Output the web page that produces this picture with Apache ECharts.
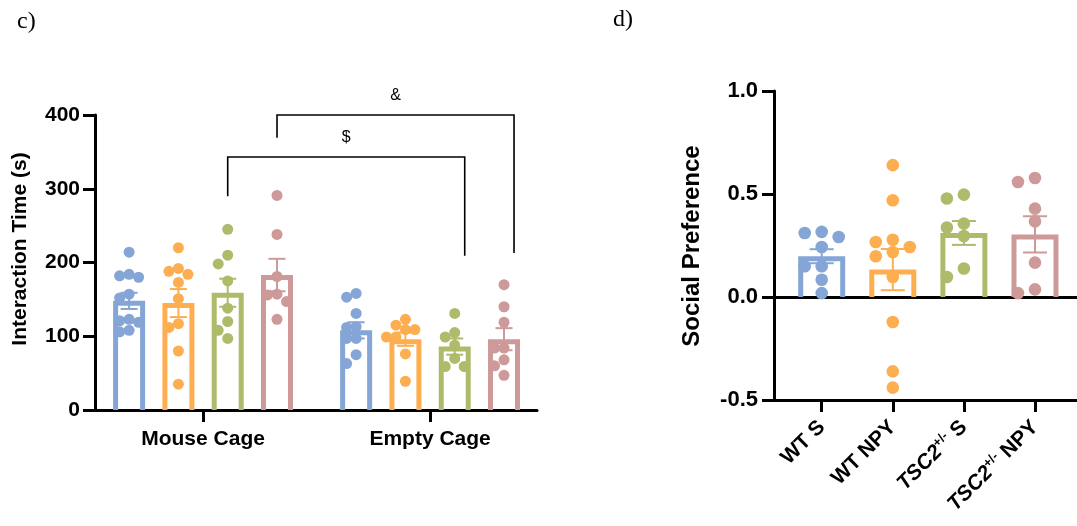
<!DOCTYPE html>
<html><head><meta charset="utf-8">
<script src="https://cdn.jsdelivr.net/npm/echarts@6/dist/echarts.min.js"></script>
<style>html,body{margin:0;padding:0;background:#fff}#c{width:1077px;height:526px}</style>
</head><body><div id="c"></div>
<script>
// ---------- panel c data ----------
const cCategories = ['Mouse Cage', 'Empty Cage'];
const cYTicks = [0, 100, 200, 300, 400];
const cMouseMeans = [148, 145, 159, 183];
const cMouseSems = [11, 19, 19, 22];
const cEmptyMeans = [108, 96, 86, 96];
const cEmptySems = [11, 9, 11, 15];
const cMousePoints = [
  [214, 184, 182, 180, 157, 152, 123, 121, 119, 108, 106],
  [220, 192, 188, 184, 173, 151, 117, 112, 80, 35],
  [245, 210, 198, 175, 138, 120, 108, 97],
  [291, 238, 181, 157, 156, 147, 123]
];
const cEmptyPoints = [
  [158, 153, 131, 113, 112, 97, 97, 75, 63],
  [123, 115, 109, 109, 99, 99, 76, 39],
  [131, 105, 99, 88, 70, 59, 59],
  [170, 140, 119, 84, 84, 68, 60, 47]
];
const cBrackets = [
  { label: '$', fromCat: 0, toCat: 1, group: 2, top: 343, leftEnd: 290, rightEnd: 209 },
  { label: '&', fromCat: 0, toCat: 1, group: 3, top: 400, leftEnd: 369, rightEnd: 213 }
];
// ---------- panel d data ----------
const dTickLabels = ['WT S', 'WT NPY', '{it|TSC2}{sup|+/-}{n| S}', '{it|TSC2}{sup|+/-}{n| NPY}'];
const dYTicks = [-0.5, 0, 0.5, 1.0];
const dMeans = [0.198, 0.133, 0.311, 0.304];
const dSems = [0.034, 0.10, 0.058, 0.088];
const dPoints = [
  [0.316, 0.311, 0.291, 0.243, 0.149, 0.149, 0.084, 0.019],
  [0.64, 0.47, 0.278, 0.267, 0.243, 0.218, 0.198, 0.097, -0.121, -0.361, -0.44],
  [0.497, 0.478, 0.356, 0.337, 0.296, 0.138, 0.097],
  [0.578, 0.558, 0.429, 0.367, 0.167, 0.037, 0.019]
];

// ---------- styling ----------
const COLORS = ['#84A5D6', '#FDAE50', '#AFBB6B', '#CE9999'];
const FONT = 'Arial, "Liberation Sans", sans-serif';
const GROUP_STEP = 49.3;

// column-scatter layout: points whose rows overlap are pushed sideways
function swarm(values, toPx, minDx, minDy, step) {
  const order = values.map((v, i) => i).sort((a, b) => values[b] - values[a]);
  const placed = [];
  const out = new Array(values.length).fill(0);
  for (const i of order) {
    const y = toPx(values[i]);
    let chosen = 0;
    for (let k = 0; k < 60; k++) {
      const cand = k === 0 ? 0 : (k % 2 ? -1 : 1) * Math.ceil(k / 2) * step;
      if (placed.every(p => Math.abs(p.x - cand) >= minDx || Math.abs(p.y - y) >= minDy)) { chosen = cand; break; }
    }
    placed.push({ x: chosen, y: y });
    out[i] = chosen;
  }
  return out;
}

function barRender(getOffset, halfW, stroke, getColor) {
  return function (params, api) {
    const x = api.value(0), m = api.value(1);
    const p0 = api.coord([x, 0]), p1 = api.coord([x, m]);
    const cx = p0[0] + getOffset(params);
    const hw = halfW - stroke / 2;
    const top = p1[1] + stroke / 2;
    return {
      type: 'polyline',
      shape: { points: [[cx - hw, p0[1]], [cx - hw, top], [cx + hw, top], [cx + hw, p0[1]]] },
      style: { stroke: getColor(params), lineWidth: stroke, fill: 'none', lineJoin: 'miter' }
    };
  };
}
function errRender(getOffset, capW, lw, getColor) {
  return function (params, api) {
    const x = api.value(0), m = api.value(1), s = api.value(2);
    const pu = api.coord([x, m + s]), pl = api.coord([x, m - s]);
    const cx = pu[0] + getOffset(params);
    const st = { stroke: getColor(params), lineWidth: lw };
    return {
      type: 'group', children: [
        { type: 'line', shape: { x1: cx, y1: pu[1], x2: cx, y2: pl[1] }, style: st },
        { type: 'line', shape: { x1: cx - capW, y1: pu[1], x2: cx + capW, y2: pu[1] }, style: st },
        { type: 'line', shape: { x1: cx - capW, y1: pl[1], x2: cx + capW, y2: pl[1] }, style: st }
      ]
    };
  };
}

const series = [];
// panel c
for (let g = 0; g < 4; g++) {
  const off = (g - 1.5) * GROUP_STEP;
  series.push({
    type: 'custom', xAxisIndex: 0, yAxisIndex: 0, z: 2, clip: false,
    data: [[0, cMouseMeans[g], cMouseSems[g]], [1, cEmptyMeans[g], cEmptySems[g]]],
    renderItem: barRender(() => off, 16, 5, () => COLORS[g])
  });
  const pts = cMousePoints[g].map((v, i) => [0, v, i]).concat(cEmptyPoints[g].map((v, i) => [1, v, i]));
  series.push({
    type: 'custom', xAxisIndex: 0, yAxisIndex: 0, z: 3, clip: false,
    data: pts,
    renderItem: function (params, api) {
      const cat = api.value(0), idx = api.value(2);
      const vals = (cat === 0 ? cMousePoints : cEmptyPoints)[g];
      const offs = swarm(vals, v => api.coord([cat, v])[1], 9.5, 9, 4.75);
      const p = api.coord([cat, api.value(1)]);
      return { type: 'circle', shape: { cx: p[0] + off + offs[idx], cy: p[1], r: 5.5 }, style: { fill: COLORS[g] } };
    }
  });
  series.push({
    type: 'custom', xAxisIndex: 0, yAxisIndex: 0, z: 4, clip: false,
    data: [[0, cMouseMeans[g], cMouseSems[g]], [1, cEmptyMeans[g], cEmptySems[g]]],
    renderItem: errRender(() => off, 8.5, 2, () => COLORS[g])
  });
}
series.push({
  type: 'custom', xAxisIndex: 0, yAxisIndex: 0, z: 5, clip: false,
  data: cBrackets.map((b, i) => [b.fromCat, b.top, i]),
  renderItem: function (params, api) {
    const b = cBrackets[api.value(2)];
    const off = (b.group - 1.5) * GROUP_STEP;
    const xl = api.coord([b.fromCat, b.top])[0] + off;
    const xr = api.coord([b.toCat, b.top])[0] + off + 10;
    const yt = api.coord([0, b.top])[1];
    const yl = api.coord([0, b.leftEnd])[1];
    const yr = api.coord([0, b.rightEnd])[1];
    return {
      type: 'group', children: [
        { type: 'polyline', shape: { points: [[xl, yl], [xl, yt], [xr, yt], [xr, yr]] }, style: { stroke: '#000', lineWidth: 1.6, fill: 'none' } },
        { type: 'text', style: { text: b.label, x: (xl + xr) / 2, y: yt - 19, align: 'center', verticalAlign: 'middle', fontSize: 16, fontFamily: FONT, fill: '#000' } }
      ]
    };
  }
});
// panel d
series.push({
  type: 'custom', xAxisIndex: 1, yAxisIndex: 1, z: 2, clip: false,
  data: dMeans.map((m, i) => [i, m, dSems[i]]),
  renderItem: barRender(() => 0, 23.5, 5, p => COLORS[p.dataIndex])
});
const dPts = [];
dPoints.forEach((arr, g) => arr.forEach((v, i) => dPts.push([g, v, i])));
series.push({
  type: 'custom', xAxisIndex: 1, yAxisIndex: 1, z: 3, clip: false,
  data: dPts,
  renderItem: function (params, api) {
    const g = api.value(0), idx = api.value(2);
    const offs = swarm(dPoints[g], v => api.coord([g, v])[1], 16, 12, 8.5);
    const p = api.coord([g, api.value(1)]);
    return { type: 'circle', shape: { cx: p[0] + offs[idx], cy: p[1], r: 6.3 }, style: { fill: COLORS[g] } };
  }
});
series.push({
  type: 'custom', xAxisIndex: 1, yAxisIndex: 1, z: 4, clip: false,
  data: dMeans.map((m, i) => [i, m, dSems[i]]),
  renderItem: errRender(() => 0, 12, 2, p => COLORS[p.dataIndex])
});

const axisLineStyle = { color: '#000', width: 3 };
const tickLabel = { color: '#000', fontSize: 21, fontWeight: 'bold', fontFamily: FONT };

const option = {
  animation: false,
  backgroundColor: '#fff',
  grid: [
    { left: 95, top: 115, width: 442, height: 295 },
    { left: 774, top: 91, width: 303, height: 309 }
  ],
  xAxis: [
    {
      gridIndex: 0, type: 'value', min: -0.476, max: 1.471,
      axisLine: { onZero: false, lineStyle: axisLineStyle },
      axisTick: { show: true, customValues: [0, 1], length: 12, lineStyle: axisLineStyle },
      axisLabel: Object.assign({ customValues: [0, 1], margin: 19, formatter: v => cCategories[Math.round(v)] }, tickLabel),
      splitLine: { show: false }
    },
    {
      gridIndex: 1, type: 'value', min: -0.671, max: 3.591,
      axisLine: { onZero: false, lineStyle: axisLineStyle },
      axisTick: { show: true, customValues: [0, 1, 2, 3], length: 12, lineStyle: axisLineStyle },
      axisLabel: Object.assign({
        customValues: [0, 1, 2, 3], margin: 24, rotate: 45, formatter: v => dTickLabels[Math.round(v)],
        rich: {
          it: { fontStyle: 'italic', fontWeight: 'bold', fontSize: 21, fontFamily: FONT, color: '#000' },
          sup: { fontWeight: 'bold', fontSize: 13, fontFamily: FONT, color: '#000', verticalAlign: 'top', lineHeight: 24 },
          n: { fontWeight: 'bold', fontSize: 21, fontFamily: FONT, color: '#000' }
        }
      }, tickLabel),
      splitLine: { show: false }
    },
    {
      gridIndex: 1, type: 'value', position: 'top', min: -0.671, max: 3.591,
      axisLine: { onZero: true, lineStyle: axisLineStyle },
      axisTick: { show: false }, axisLabel: { show: false }, splitLine: { show: false }
    }
  ],
  yAxis: [
    {
      gridIndex: 0, type: 'value', min: 0, max: 400,
      axisLine: { show: true, onZero: false, lineStyle: axisLineStyle },
      axisTick: { show: true, customValues: cYTicks, length: 12, lineStyle: axisLineStyle },
      axisLabel: Object.assign({ customValues: cYTicks, margin: 15 }, tickLabel),
      splitLine: { show: false }
    },
    {
      gridIndex: 1, type: 'value', min: -0.5, max: 1.0,
      axisLine: { show: true, onZero: false, lineStyle: axisLineStyle },
      axisTick: { show: true, customValues: dYTicks, length: 12, lineStyle: axisLineStyle },
      axisLabel: Object.assign({ customValues: dYTicks, margin: 16, formatter: v => v.toFixed(1), fontSize: 22 }, { color: '#000', fontWeight: 'bold', fontFamily: FONT }),
      splitLine: { show: false }
    }
  ],
  graphic: [
    { type: 'text', left: 17, top: 10, style: { text: 'c)', fontSize: 24, fontFamily: '"Liberation Serif", "Times New Roman", serif', fill: '#000' } },
    { type: 'text', left: 613, top: 8, style: { text: 'd)', fontSize: 24, fontFamily: '"Liberation Serif", "Times New Roman", serif', fill: '#000' } },
    { type: 'text', x: 20, y: 249, rotation: Math.PI / 2, style: { text: 'Interaction Time (s)', align: 'center', verticalAlign: 'middle', fontSize: 21, fontWeight: 'bold', fontFamily: FONT, fill: '#000' } },
    { type: 'text', x: 692, y: 246, rotation: Math.PI / 2, style: { text: 'Social Preference', align: 'center', verticalAlign: 'middle', fontSize: 24, fontWeight: 'bold', fontFamily: FONT, fill: '#000' } }
  ],
  series: series
};
const chart = echarts.init(document.getElementById('c'), null, { renderer: 'canvas' });
chart.setOption(option);
</script>
</body></html>
